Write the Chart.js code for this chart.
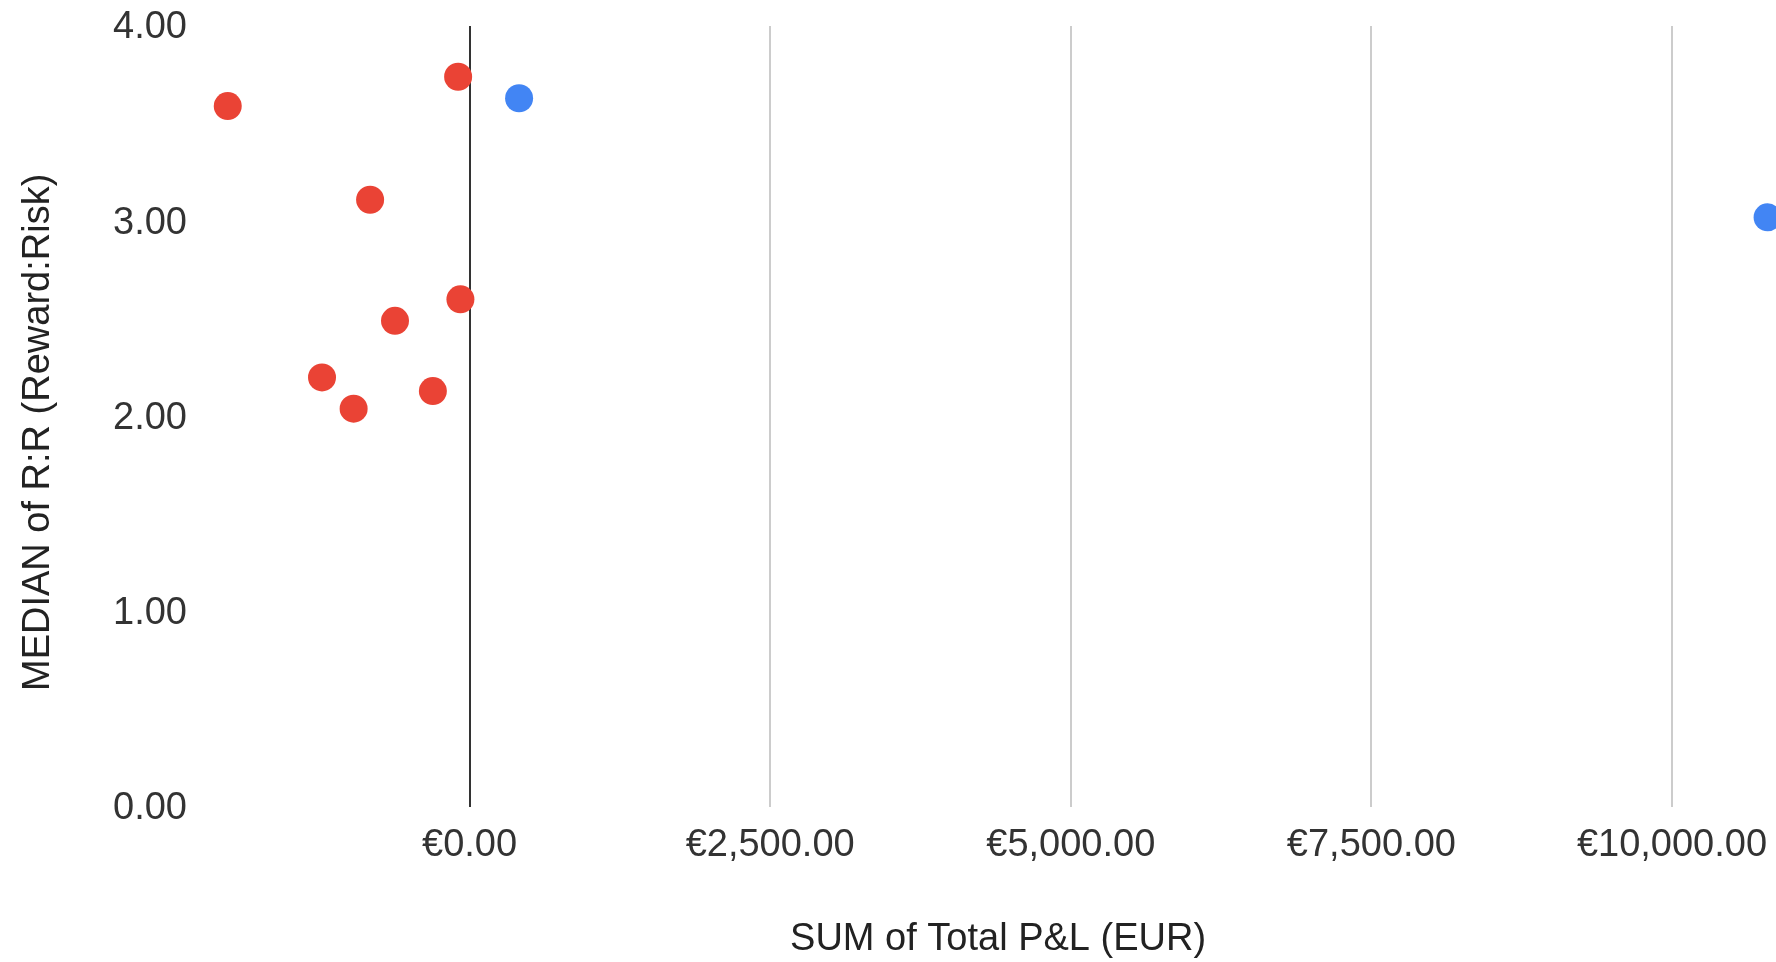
<!DOCTYPE html>
<html>
<head>
<meta charset="utf-8">
<script src="https://cdn.jsdelivr.net/npm/chart.js@4"></script>
<style>
  html, body { margin: 0; padding: 0; background: #fff; overflow: hidden; }
  #wrap { width: 1776px; height: 962px; position: relative; overflow: hidden; }
  canvas { display: block; }
</style>
</head>
<body>
<div id="wrap"><canvas id="c"></canvas></div>
<script>
// Data
const pnlNegative = [-2011, -95, -827, -76, -620, -1227, -964, -305];
const rrNegative  = [3.59, 3.74, 3.11, 2.60, 2.49, 2.20, 2.04, 2.13];
const pnlPositive = [412, 10795];
const rrPositive  = [3.63, 3.02];
const xTickValues = [0, 2500, 5000, 7500, 10000];
const yTickValues = [0, 1, 2, 3, 4];
const xTitle = 'SUM of Total P&L (EUR)';
const yTitle = 'MEDIAN of R:R (Reward:Risk)';

const toPoints = (xs, ys) => xs.map((x, i) => ({ x: x, y: ys[i] }));
const FONT = "'Liberation Sans', Arial, sans-serif";
const FS = 38;

new Chart(document.getElementById('c'), {
  type: 'scatter',
  data: {
    datasets: [
      { label: 'Loss', data: toPoints(pnlNegative, rrNegative), backgroundColor: '#EA4335', borderWidth: 0, pointRadius: 14, pointHoverRadius: 14, clip: false },
      { label: 'Profit', data: toPoints(pnlPositive, rrPositive), backgroundColor: '#4285F4', borderWidth: 0, pointRadius: 14, pointHoverRadius: 14, clip: false }
    ]
  },
  options: {
    responsive: true,
    maintainAspectRatio: false,
    animation: false,
    devicePixelRatio: 1,
    layout: { autoPadding: false, padding: { top: 26, left: 0, right: 0, bottom: 0 } },
    plugins: { legend: { display: false }, tooltip: { enabled: false } },
    scales: {
      x: {
        type: 'linear', min: -2250, max: 10865,
        afterBuildTicks: (s) => { s.ticks = xTickValues.map(v => ({ value: v })); },
        afterFit: (s) => { s.height = 155; s.paddingLeft = 0; s.paddingRight = 0; },
        grid: { drawTicks: false, lineWidth: 2, color: (ctx) => (ctx.tick && ctx.tick.value === 0) ? '#333333' : '#cccccc' },
        border: { display: false },
        ticks: { padding: 16, color: '#333', font: { family: FONT, size: FS },
          callback: (v) => '€' + Number(v).toLocaleString('en-US', { minimumFractionDigits: 2, maximumFractionDigits: 2 }) },
        title: { display: true, text: '\u00A0\u00A0' + xTitle, color: '#222', font: { family: FONT, size: FS }, padding: { top: 0, bottom: 0 } }
      },
      y: {
        type: 'linear', min: 0, max: 4,
        afterBuildTicks: (s) => { s.ticks = yTickValues.map(v => ({ value: v })); },
        afterFit: (s) => { s.width = 199; s.paddingTop = 0; s.paddingBottom = 0; },
        grid: { display: false, drawTicks: false },
        border: { display: false },
        ticks: { padding: 12, labelOffset: 2, color: '#333', font: { family: FONT, size: FS }, callback: (v) => Number(v).toFixed(2) },
        title: { display: true, text: yTitle + '\u00A0\u00A0\u00A0', color: '#222', font: { family: FONT, size: FS }, padding: { top: 16, bottom: 0 } }
      }
    }
  }
});
</script>
</body>
</html>
